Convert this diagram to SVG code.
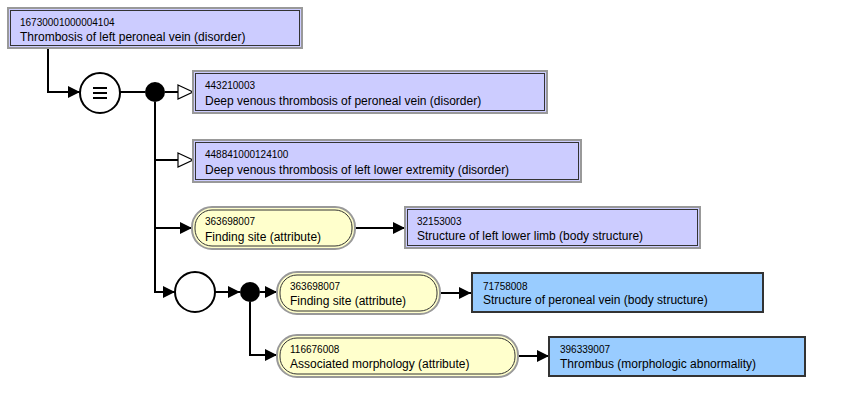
<svg xmlns="http://www.w3.org/2000/svg" width="856" height="413" viewBox="0 0 856 413">
<style>
.bg{fill:#fff}
.prim-o{fill:#CCCCFF;stroke:#999;stroke-width:2}
.prim-i{fill:none;stroke:#333;stroke-width:1}
.blue{fill:#99CCFF;stroke:#333;stroke-width:2}
.pill-o{fill:#FFFFCC;stroke:#999;stroke-width:2}
.pill-i{fill:none;stroke:#333;stroke-width:1}
.id{font-family:"Liberation Sans",Arial,sans-serif;font-size:10px;fill:#000}
.nm{font-family:"Liberation Sans",Arial,sans-serif;font-size:12px;fill:#000}
.c{fill:none;stroke:#000;stroke-width:2}
.solid{marker-end:url(#fa)}
.isa{marker-end:url(#oa)}
</style>
<defs>
<marker id="fa" markerUnits="userSpaceOnUse" markerWidth="14" markerHeight="14" viewBox="0 0 14 14" refX="13" refY="7" orient="auto">
<path d="M1,1 L13,7 L1,13 Z" fill="#000"/>
</marker>
<marker id="oa" markerUnits="userSpaceOnUse" markerWidth="18" markerHeight="16" viewBox="0 0 18 16" refX="16" refY="8" orient="auto">
<path d="M1,1 L16,8 L1,15 Z" fill="#fff" stroke="#000" stroke-width="1.2"/>
</marker>
</defs>
<rect class="bg" width="856" height="413"/>
<g id="connectors">
<path class="c solid" d="M48,48 V92 H80"/>
<path class="c" d="M120,92 H145"/>
<path class="c isa" d="M165,92 H193"/>
<path class="c solid" d="M155,102 V292 H175"/>
<path class="c isa" d="M155,160 H193"/>
<path class="c solid" d="M155,228 H192"/>
<path class="c solid" d="M355,228 H405"/>
<path class="c solid" d="M215,292 H240"/>
<path class="c solid" d="M260,292 H277"/>
<path class="c solid" d="M250,302 V355 H277"/>
<path class="c solid" d="M440,293 H471"/>
<path class="c solid" d="M518,356 H549"/>
</g>
<g id="n1">
<rect class="prim-o" x="8" y="8" width="294" height="40"/>
<rect class="prim-i" x="10.5" y="10.5" width="289" height="35"/>
<text class="id" x="20" y="26">16730001000004104</text>
<text class="nm" x="20" y="41">Thrombosis of left peroneal vein (disorder)</text>
</g>
<g id="equiv">
<circle cx="100" cy="93" r="20" fill="#fff" stroke="#000" stroke-width="2"/>
<path d="M93,88 H107 M93,93 H107 M93,98 H107" stroke="#000" stroke-width="2"/>
</g>
<g id="conj1"><circle cx="155" cy="92" r="10" fill="#000"/></g>
<g id="n2">
<rect class="prim-o" x="193" y="71" width="354" height="42"/>
<rect class="prim-i" x="195.5" y="73.5" width="349" height="37"/>
<text class="id" x="205" y="89">443210003</text>
<text class="nm" x="205" y="105">Deep venous thrombosis of peroneal vein (disorder)</text>
</g>
<g id="n3">
<rect class="prim-o" x="193" y="140" width="388" height="42"/>
<rect class="prim-i" x="195.5" y="142.5" width="383" height="37"/>
<text class="id" x="205" y="158">448841000124100</text>
<text class="nm" x="205" y="174">Deep venous thrombosis of left lower extremity (disorder)</text>
</g>
<g id="a1">
<rect class="pill-o" x="192" y="207" width="163" height="42" rx="20" ry="20"/>
<rect class="pill-i" x="195" y="210" width="157" height="36" rx="17" ry="17"/>
<text class="id" x="205" y="225">363698007</text>
<text class="nm" x="205" y="241">Finding site (attribute)</text>
</g>
<g id="n4">
<rect class="prim-o" x="405" y="207" width="295" height="41"/>
<rect class="prim-i" x="407.5" y="209.5" width="290" height="36"/>
<text class="id" x="417" y="225">32153003</text>
<text class="nm" x="417" y="240">Structure of left lower limb (body structure)</text>
</g>
<g id="group">
<circle cx="195" cy="292" r="20" fill="#fff" stroke="#000" stroke-width="2"/>
</g>
<g id="conj2"><circle cx="250" cy="292" r="10" fill="#000"/></g>
<g id="a2">
<rect class="pill-o" x="277" y="272" width="163" height="42" rx="20" ry="20"/>
<rect class="pill-i" x="280" y="275" width="157" height="36" rx="17" ry="17"/>
<text class="id" x="290" y="290">363698007</text>
<text class="nm" x="290" y="305">Finding site (attribute)</text>
</g>
<g id="n5">
<rect class="blue" x="472" y="273" width="291" height="39"/>
<text class="id" x="483" y="290">71758008</text>
<text class="nm" x="483" y="304">Structure of peroneal vein (body structure)</text>
</g>
<g id="a3">
<rect class="pill-o" x="277" y="335" width="241" height="42" rx="20" ry="20"/>
<rect class="pill-i" x="280" y="338" width="235" height="36" rx="17" ry="17"/>
<text class="id" x="290" y="353">116676008</text>
<text class="nm" x="290" y="368">Associated morphology (attribute)</text>
</g>
<g id="n6">
<rect class="blue" x="549" y="337" width="256" height="39"/>
<text class="id" x="560" y="353">396339007</text>
<text class="nm" x="560" y="368">Thrombus (morphologic abnormality)</text>
</g>
</svg>
